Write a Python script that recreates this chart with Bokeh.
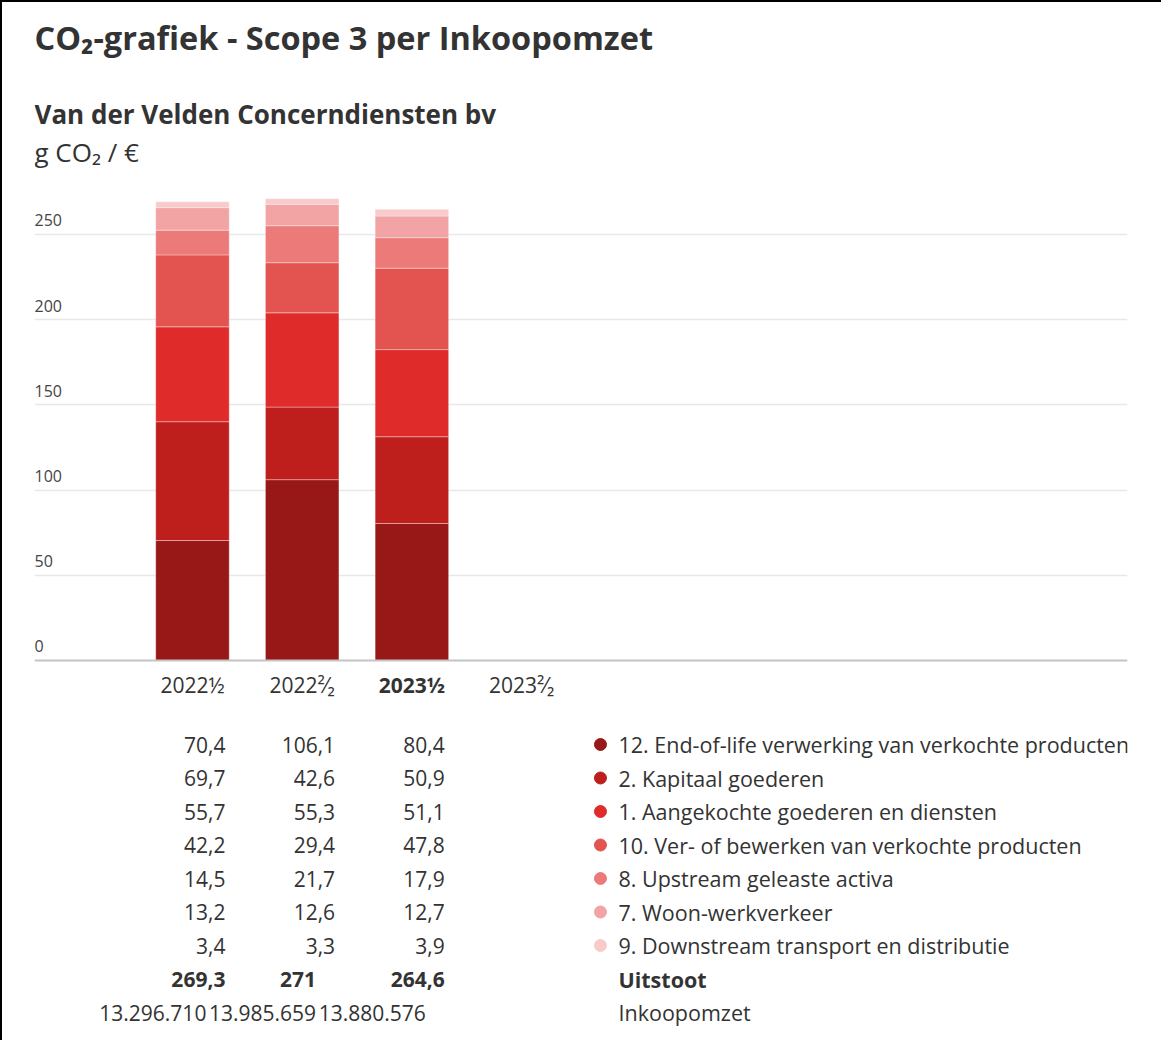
from bokeh.plotting import figure
from bokeh.models import Range1d, ColumnDataSource, FixedTicker, Grid, Span
from bokeh.layouts import column
from bokeh.embed import file_html
from bokeh.resources import INLINE
from bokeh.core.properties import value

# ---------------- data ----------------
categories = ["2022½", "2022²⁄₂", "2023½", "2023²⁄₂"]
current_period = "2023½"

series_names = [
    "12. End-of-life verwerking van verkochte producten",
    "2. Kapitaal goederen",
    "1. Aangekochte goederen en diensten",
    "10. Ver- of bewerken van verkochte producten",
    "8. Upstream geleaste activa",
    "7. Woon-werkverkeer",
    "9. Downstream transport en distributie",
]
series_colors = ["#981818", "#BE1F1D", "#DF2B2A", "#E35451", "#EB7A78", "#F2A3A3", "#F8CACA"]

end_of_life = [70.4, 106.1, 80.4]
kapitaal = [69.7, 42.6, 50.9]
aangekochte = [55.7, 55.3, 51.1]
ver_bewerken = [42.2, 29.4, 47.8]
upstream = [14.5, 21.7, 17.9]
woon_werk = [13.2, 12.6, 12.7]
downstream = [3.4, 3.3, 3.9]
totals = [269.3, 271, 264.6]
inkoopomzet = [13296710, 13985659, 13880576]

y_ticks = [0, 50, 100, 150, 200, 250]

title = "CO₂-grafiek - Scope 3 per Inkoopomzet"
subtitle = "Van der Velden Concerndiensten bv"
unit = "g CO₂ / €"
total_label = "Uitstoot"
omzet_label = "Inkoopomzet"

series_values = [end_of_life, kapitaal, aangekochte, ver_bewerken, upstream, woon_werk, downstream]

# ---------------- style ----------------
FONT = value("Open Sans")
TEXT = "#333333"
W = 1159
LEFT, RIGHT = 32, 34
FRAME_W = W - LEFT - RIGHT
X_RANGE = Range1d(-1.440, 8.523)
NUM = "21px"
LEG = "21.5px"


def fmt(v):
    if float(v).is_integer():
        return str(int(v))
    return f"{v:.1f}".replace(".", ",")


def fmt_int(v):
    return f"{v:,}".replace(",", ".")


def base_fig(height, x_range, y_range):
    f = figure(width=W, height=height, x_range=x_range, y_range=y_range,
               x_axis_type=None, y_axis_type=None, output_backend="svg",
               toolbar_location=None, min_border_left=LEFT, min_border_right=RIGHT,
               min_border_top=0, min_border_bottom=0)
    f.outline_line_color = None
    f.grid.visible = False
    return f


# ---------------- header ----------------
head = base_fig(190, Range1d(0, FRAME_W), Range1d(190, 0))
head.text(x=[0], y=[35], text=[title], text_font=FONT, text_font_size="32.5px",
          text_font_style="bold", text_color=TEXT, text_baseline="middle")
head.text(x=[0], y=[111], text=[subtitle], text_font=FONT, text_font_size="26px",
          text_font_style="bold", text_color=TEXT, text_baseline="middle")
head.text(x=[0], y=[149], text=[unit], text_font=FONT, text_font_size="26px",
          text_color=TEXT, text_baseline="middle")

# ---------------- chart ----------------
chart = base_fig(472, X_RANGE, Range1d(-2.35, 274.6))
chart.add_layout(Grid(dimension=1, ticker=FixedTicker(ticks=y_ticks[1:]),
                      grid_line_color="#e8e8e8", grid_line_width=1.5))
keys = [f"s{i}" for i in range(len(series_values))]
data = {"x": list(range(len(end_of_life)))}
for k, vals in zip(keys, series_values):
    data[k] = vals
chart.vbar_stack(keys, x="x", width=0.67, color=series_colors,
                 source=ColumnDataSource(data), line_color="white",
                 line_alpha=0.35, line_width=1)
chart.add_layout(Span(location=0, dimension="width", line_color="#c4c4c4", line_width=2))
chart.text(x=[X_RANGE.start] * len(y_ticks), y=y_ticks, text=[str(t) for t in y_ticks],
           text_font=FONT, text_font_size="16px", text_color="#444444",
           text_baseline="middle", text_align="left", y_offset=-14)

# ---------------- table + legend ----------------
table = base_fig(376, X_RANGE, Range1d(376, 0))

table.text(x=list(range(len(categories))), y=[20] * len(categories), text=categories,
           text_font=FONT, text_font_size=NUM, text_color=TEXT,
           text_font_style=["bold" if c == current_period else "normal" for c in categories],
           text_align="center", text_baseline="middle")

ROW0, ROW_H = 80, 33.5
COL_DX = 0.30
INT_SHIFT = -19
rows_x, rows_y, rows_t, rows_off = [], [], [], []
for j, vals in enumerate(series_values):
    for i, v in enumerate(vals):
        rows_x.append(i + COL_DX)
        rows_y.append(ROW0 + j * ROW_H)
        rows_t.append(fmt(v))
        rows_off.append(0 if "," in fmt(v) else INT_SHIFT)
table.text(x=rows_x, y=rows_y, text=rows_t, x_offset=rows_off, text_font=FONT,
           text_font_size=NUM, text_color=TEXT, text_align="right", text_baseline="middle")

n = len(series_values)
table.text(x=[i + COL_DX for i in range(len(totals))], y=[ROW0 + n * ROW_H] * len(totals),
           text=[fmt(v) for v in totals],
           x_offset=[0 if "," in fmt(v) else INT_SHIFT for v in totals],
           text_font=FONT, text_font_size=NUM, text_font_style="bold", text_color=TEXT,
           text_align="right", text_baseline="middle")
table.text(x=[i + COL_DX for i in range(len(inkoopomzet))],
           y=[ROW0 + (n + 1) * ROW_H] * len(inkoopomzet),
           text=[fmt_int(v) for v in inkoopomzet], x_offset=[INT_SHIFT] * len(inkoopomzet),
           text_font=FONT, text_font_size=NUM, text_color=TEXT,
           text_align="right", text_baseline="middle")

LEG_DOT, LEG_TXT = 3.719, 3.883
table.scatter(x=[LEG_DOT] * n, y=[ROW0 + j * ROW_H for j in range(n)], size=12,
              color=series_colors, marker="circle")
table.text(x=[LEG_TXT] * n, y=[ROW0 + j * ROW_H for j in range(n)], text=series_names,
           text_font=FONT, text_font_size=LEG, text_color=TEXT,
           text_align="left", text_baseline="middle")
table.text(x=[LEG_TXT], y=[ROW0 + n * ROW_H], text=[total_label], text_font=FONT,
           text_font_size=LEG, text_font_style="bold", text_color=TEXT,
           text_align="left", text_baseline="middle")
table.text(x=[LEG_TXT], y=[ROW0 + (n + 1) * ROW_H], text=[omzet_label], text_font=FONT,
           text_font_size=LEG, text_color=TEXT, text_align="left", text_baseline="middle")

layout = column(head, chart, table, spacing=0,
                styles={"border-top": "2px solid black", "border-left": "2px solid black"})

open("out.html", "w").write(file_html(layout, INLINE))
